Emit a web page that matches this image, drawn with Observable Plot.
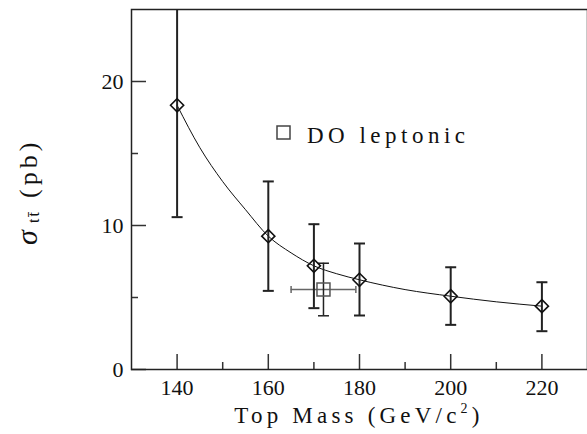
<!DOCTYPE html>
<html><head><meta charset="utf-8">
<script src="https://cdn.jsdelivr.net/npm/d3@7"></script>
<script src="https://cdn.jsdelivr.net/npm/@observablehq/plot@0.6"></script>
<style>body{margin:0;background:#fff} svg{display:block}</style>
</head><body><div id="chart"></div>
<script>
// CDF-style points (diamonds)
const masses = [140, 160, 170, 180, 200, 220];
const sigma = [18.35, 9.26, 7.2, 6.23, 5.09, 4.40];
const sigmaLow = [10.58, 5.46, 4.26, 3.75, 3.10, 2.66];
const sigmaHigh = [27.0, 13.06, 10.09, 8.75, 7.10, 6.06];
// D0 leptonic point (square)
const d0Mass = [172.1];
const d0Sigma = [5.56];
const d0SigmaLow = [3.73];
const d0SigmaHigh = [7.38];
const d0MassLow = [165.0];
const d0MassHigh = [179.2];
// theory curve
const curveMass = [140, 145, 150, 155, 160, 165, 170, 175, 180, 190, 200, 210, 220];
const curveSigma = [18.35, 15.4, 13.05, 11.1, 9.26, 8.1, 7.2, 6.65, 6.23, 5.55, 5.09, 4.70, 4.40];
// ticks
const xMajor = [140, 160, 180, 200, 220];
const xMinor = [150, 170, 190, 210];
const yMajor = [0, 10, 20];
const yMinor = [5, 15];
const legendLabel = "DO leptonic";

const pts = masses.map((m, i) => ({m, s: sigma[i], lo: sigmaLow[i], hi: sigmaHigh[i]}));
const d0 = d0Mass.map((m, i) => ({m, s: d0Sigma[i], lo: d0SigmaLow[i], hi: d0SigmaHigh[i], mlo: d0MassLow[i], mhi: d0MassHigh[i]}));
const curve = curveMass.map((m, i) => ({m, s: curveSigma[i]}));
const ends = pts.flatMap(d => [{m: d.m, s: d.lo}, {m: d.m, s: d.hi}]);
const d0Ends = d0.flatMap(d => [{m: d.m, s: d.lo}, {m: d.m, s: d.hi}]);
const d0XEnds = d0.flatMap(d => [{m: d.mlo, s: d.s}, {m: d.mhi, s: d.s}]);

const hCap = {draw(ctx) { ctx.moveTo(-5.5, 0); ctx.lineTo(5.5, 0); }};
const vCap = {draw(ctx) { ctx.moveTo(0, -3.5); ctx.lineTo(0, 3.5); }};

const font = "'Liberation Serif', serif";
const W = 587, H = 434;
const plot = Plot.plot({
  width: W, height: H,
  marginLeft: 131, marginRight: 0, marginTop: 9, marginBottom: 65,
  style: {fontFamily: font, fontSize: "22px", color: "#111", background: "#fff"},
  x: {domain: [130, 230]},
  y: {domain: [0, 25]},
  marks: [
    Plot.tickX(xMajor, {x: d => d, insetTop: 345, stroke: "#333", strokeWidth: 1.5}),
    Plot.tickX(xMinor, {x: d => d, insetTop: 353, stroke: "#333", strokeWidth: 1.5}),
    Plot.tickY(yMajor, {y: d => d, insetRight: 441, stroke: "#333", strokeWidth: 1.5}),
    Plot.tickY(yMinor, {y: d => d, insetRight: 449, stroke: "#333", strokeWidth: 1.5}),
    Plot.axisX(xMajor, {tickSize: 0, tickPadding: 10, label: null, fontSize: 22, fill: "#111"}),
    Plot.axisY(yMajor, {tickSize: 0, tickPadding: 8, label: null, fontSize: 22, fill: "#111"}),
    Plot.line(curve, {x: "m", y: "s", curve: "monotone-x", stroke: "#111", strokeWidth: 1}),
    Plot.ruleY(d0, {y: "s", x1: "mlo", x2: "mhi", stroke: "#666", strokeWidth: 1.5}),
    Plot.dot(d0XEnds, {x: "m", y: "s", symbol: vCap, r: 3, stroke: "#666", strokeWidth: 1.5}),
    Plot.ruleX(d0, {x: "m", y1: "lo", y2: "hi", stroke: "#222", strokeWidth: 1.5}),
    Plot.dot(d0Ends, {x: "m", y: "s", symbol: hCap, r: 3, stroke: "#222", strokeWidth: 1.5}),
    Plot.dot(d0, {x: "m", y: "s", symbol: "square2", r: 8.27, stroke: "#555", strokeWidth: 1.5, fill: "none"}),
    Plot.ruleX(pts, {x: "m", y1: "lo", y2: "hi", stroke: "#222", strokeWidth: 2, clip: true}),
    Plot.dot(ends, {x: "m", y: "s", symbol: hCap, r: 3, stroke: "#222", strokeWidth: 2, clip: true}),
    Plot.dot(pts, {x: "m", y: "s", symbol: "diamond2", r: 5.9, stroke: "#111", strokeWidth: 1.6, fill: "none"}),
    Plot.frame({stroke: "#222", strokeWidth: 1.5})
  ]
});
document.getElementById("chart").appendChild(plot);

const svg = d3.select(plot);
// x label
const xl = svg.append("text").attr("x", 359).attr("y", 423).attr("text-anchor", "middle")
  .attr("font-family", font).attr("font-size", 23).attr("letter-spacing", "4.2px").attr("fill", "#111");
xl.append("tspan").text("Top Mass (GeV/c");
xl.append("tspan").attr("font-size", 14).attr("dy", -10).text("2");
xl.append("tspan").attr("dy", 10).text(")");
// y label (rotated, reading bottom to top)
const yl = svg.append("text").attr("transform", "translate(37,245) rotate(-90)").attr("text-anchor", "start")
  .attr("font-family", font).attr("font-size", 26).attr("fill", "#111");
yl.append("tspan").attr("x", 0).attr("font-size", 30).attr("font-style", "italic").text("σ");
yl.append("tspan").attr("x", 22).attr("dy", 2).attr("font-size", 16).attr("letter-spacing", "2px").text("tt\u0304");
yl.append("tspan").attr("x", 47).attr("dy", -2).attr("letter-spacing", "4px").text("(pb)");
// legend
svg.append("rect").attr("x", 277).attr("y", 126).attr("width", 13).attr("height", 13)
  .attr("fill", "none").attr("stroke", "#444").attr("stroke-width", 1.5);
svg.append("text").attr("x", 307).attr("y", 143).attr("text-anchor", "start").attr("font-family", font).attr("font-size", 23)
  .attr("letter-spacing", "4.5px").attr("fill", "#111").text(legendLabel);
</script>
</body></html>
